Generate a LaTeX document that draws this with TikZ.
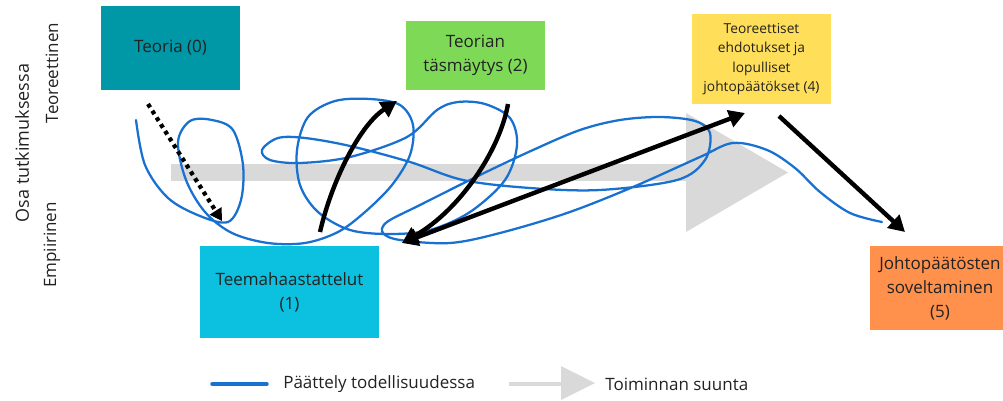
\documentclass[tikz,border=0pt]{standalone}
\usepackage{fontspec}
\setmainfont{Open Sans}
\usetikzlibrary{arrows.meta}
\definecolor{cteal}{RGB}{0,151,167}
\definecolor{cgreen}{RGB}{126,217,87}
\definecolor{cyellow}{RGB}{255,222,89}
\definecolor{ccyan}{RGB}{12,192,223}
\definecolor{corange}{RGB}{255,145,77}
\definecolor{cgray}{RGB}{217,217,217}
\definecolor{cblue}{RGB}{24,113,209}
\definecolor{ctext}{RGB}{34,34,34}
\tikzset{
  box/.style={draw=none, inner sep=0pt, align=center, text=ctext,
    font=\fontsize{12.75}{18}\selectfont},
  smallbox/.style={box, font=\fontsize{10.3}{14.6}\selectfont},
  sidelabel/.style={rotate=90, inner sep=0pt, text=ctext,
    font=\fontsize{12.75}{16}\selectfont},
  legendtext/.style={anchor=west, inner sep=0pt, text=ctext,
    font=\fontsize{12.75}{16}\selectfont},
  scribble/.style={draw=cblue, line width=1.7pt, line cap=round, line join=round},
  bigarrow/.style={draw=black, line width=3.3pt,
    -{Triangle[length=12pt, width=13pt]}},
  dotarrow/.style={draw=black, line width=3.2pt, dash pattern=on 3pt off 3pt,
    -{Triangle[length=9pt, width=10pt]}},
}
\begin{document}
\begin{tikzpicture}[x=0.75pt, y=-0.75pt]
\useasboundingbox (0,0) rectangle (1003,400);

% direction arrow (background)
\fill[cgray] (171,164) rectangle (686,181);
\fill[cgray] (686,113) -- (788,172.5) -- (686,232) -- cycle;

% boxes
\node[box, fill=cteal, minimum width=104.25pt, minimum height=63pt] (t0) at (170.5,48) {Teoria (0)};
\node[box, fill=cgreen, minimum width=104.25pt, minimum height=51.75pt] (t2) at (475.5,55.5) {Teorian\\täsmäytys (2)};
\node[smallbox, fill=cyellow, minimum width=104.25pt, minimum height=67.5pt] (t4) at (761.5,59) {Teoreettiset\\ehdotukset ja\\lopulliset\\johtopäätökset (4)};
\node[box, fill=ccyan, minimum width=134.25pt, minimum height=69pt] (t1) at (289.5,292) {Teemahaastattelut\\(1)};
\fill[corange] (870,246) rectangle (1003,330);
\node[box] (t5) at (940,288) {Johtopäätösten\\soveltaminen\\(5)};

% side labels
\node[sidelabel, font=\fontsize{13.5}{16}\selectfont] (osa) at (22,143) {Osa tutkimuksessa};
\node[sidelabel] (teor) at (52,73) {Teoreettinen};
\node[sidelabel] (emp) at (52,245) {Empiirinen};

% scribble
\draw[scribble] plot[smooth, tension=0.55] coordinates {
 (136,120) (145,165) (168,198) (200,216) (228,222) (241,200) (243,165) (233,130)
 (212,120) (190,121) (178,142) (186,180) (205,212) (232,233) (268,243) (305,243)
 (338,232) (365,212) (392,185) (410,155) (413,125) (400,105) (370,99) (335,101)
 (308,117) (297,150) (300,185) (318,212) (350,230) (390,234) (430,230) (470,212)
 (505,180) (517,145) (510,118) (485,104) (458,102) (437,110) (407,137) (350,157)
 (300,163) (270,160) (262,150) (278,138) (305,138) (350,146) (410,162) (463,180)
 (530,188) (600,190) (677,180) (705,160) (710,133) (695,121) (660,117) (620,120)
 (580,130) (533,150) (480,175) (420,205) (387,222) (383,233) (400,240) (450,243)
 (500,233) (567,213) (633,187) (700,157) (733,143) (767,150) (795,168) (820,192)
 (850,213) (882,222)};

% arrows
\coordinate (d0) at (148,104);
\coordinate (d1) at (222,221);
\coordinate (u0) at (320,232);
\coordinate (u1) at (397,101);
\coordinate (v0) at (508,104);
\coordinate (v1) at (402,243);
\coordinate (w1) at (745,113);
\coordinate (x0) at (779,116);
\coordinate (x1) at (905,232);
\draw[dotarrow] (d0) -- (d1);
\draw[bigarrow] (u0) .. controls (332,180) and (360,125) .. (u1);
\draw[bigarrow] (v0) .. controls (500,150) and (460,210) .. (v1);
\draw[bigarrow, {Triangle[length=12pt, width=13pt]}-{Triangle[length=12pt, width=13pt]}] (v1) -- (w1);
\draw[bigarrow] (x0) -- (x1);

% legend
\coordinate (lb0) at (212,384);
\coordinate (lb1) at (267,384);
\draw[draw=cblue, line width=2.6pt, line cap=round] (lb0) -- (lb1);
\node[legendtext] (lt1) at (283,384) {Päättely todellisuudessa};
\coordinate (lg0) at (509,384);
\coordinate (lg1) at (561,384);
\draw[draw=cgray, line width=3pt] (lg0) -- (lg1);
\fill[cgray] (561,366) -- (595,383) -- (561,400) -- cycle;
\node[legendtext] (lt2) at (605,384) {Toiminnan suunta};
\end{tikzpicture}
\end{document}
